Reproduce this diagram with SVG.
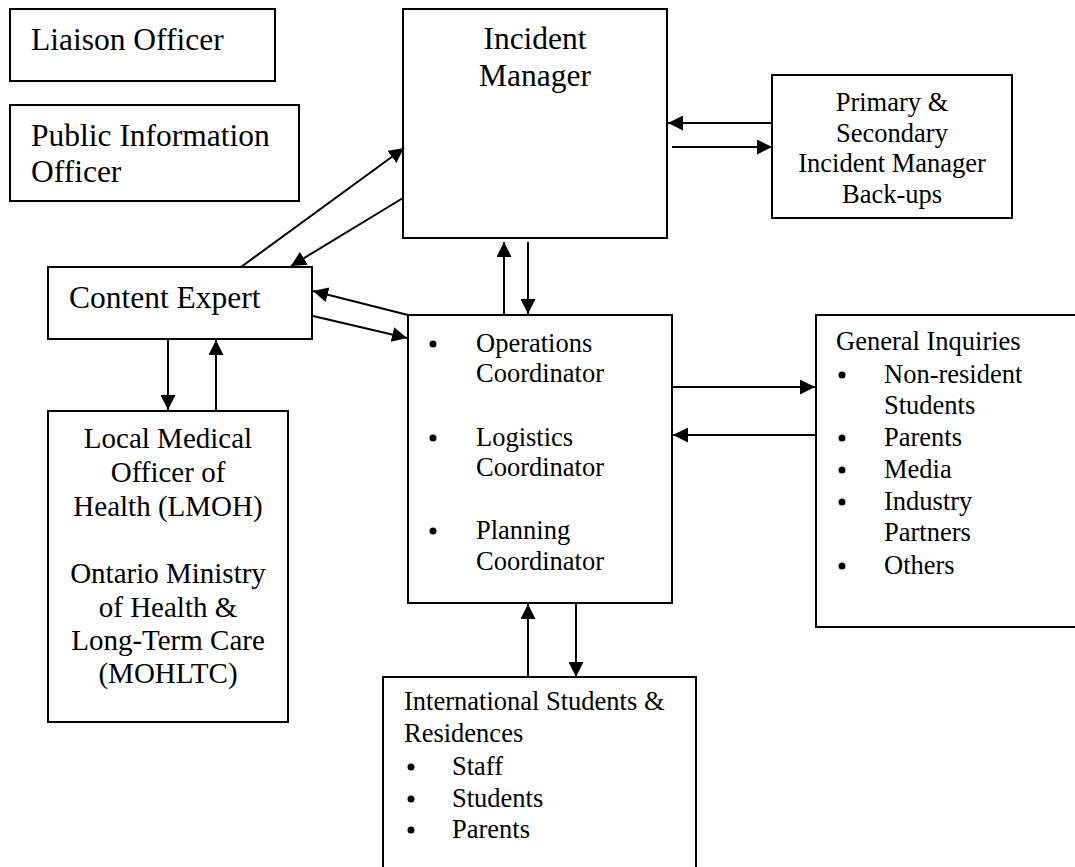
<svg xmlns="http://www.w3.org/2000/svg" width="1075" height="867" viewBox="0 0 1075 867">
<style>
.box{fill:#fff;stroke:#000;stroke-width:2}
.big{font-family:"Liberation Serif","Times New Roman",serif;font-size:31.5px;fill:#000}
.mid{font-family:"Liberation Serif","Times New Roman",serif;font-size:29px;fill:#000}
.sm{font-family:"Liberation Serif","Times New Roman",serif;font-size:26.5px;fill:#000}
.c{text-anchor:middle}
.ln{stroke:#000;stroke-width:2;fill:none;marker-end:url(#ah)}
</style>
<defs>
<marker id="ah" markerUnits="userSpaceOnUse" markerWidth="15" markerHeight="15" refX="14" refY="7" orient="auto" viewBox="0 0 14 14">
<path d="M0,0 L14,7 L0,14 z" fill="#000"/>
</marker>
</defs>
<rect width="1075" height="867" fill="#fff"/>
<g id="liaison">
<rect class="box" x="10" y="9" width="265" height="72"/>
<text class="big" x="31" y="50">Liaison Officer</text>
</g>
<g id="public-info">
<rect class="box" x="10" y="105" width="289" height="96"/>
<text class="big" x="31" y="146">Public Information</text>
<text class="big" x="31" y="182">Officer</text>
</g>
<g id="incident-manager">
<rect class="box" x="403" y="9" width="264" height="229"/>
<text class="big c" x="535" y="49">Incident</text>
<text class="big c" x="535" y="86">Manager</text>
</g>
<g id="backups">
<rect class="box" x="772" y="75" width="240" height="143"/>
<text class="sm c" x="892" y="111">Primary &amp;</text>
<text class="sm c" x="892" y="142">Secondary</text>
<text class="sm c" x="892" y="172">Incident Manager</text>
<text class="sm c" x="892" y="203">Back-ups</text>
</g>
<g id="content-expert">
<rect class="box" x="48" y="267" width="264" height="72"/>
<text class="big" x="69" y="308">Content Expert</text>
</g>
<g id="lmoh">
<rect class="box" x="48" y="411" width="240" height="311"/>
<text class="mid c" x="168" y="448">Local Medical</text>
<text class="mid c" x="168" y="482">Officer of</text>
<text class="mid c" x="168" y="516">Health (LMOH)</text>
<text class="mid c" x="168" y="583">Ontario Ministry</text>
<text class="mid c" x="168" y="617">of Health &amp;</text>
<text class="mid c" x="168" y="650">Long-Term Care</text>
<text class="mid c" x="168" y="683">(MOHLTC)</text>
</g>
<g id="coordinators">
<rect class="box" x="408" y="315" width="264" height="288"/>
<circle cx="433" cy="344" r="3.5"/>
<circle cx="433" cy="438" r="3.5"/>
<circle cx="433" cy="531" r="3.5"/>
<text class="sm" x="476" y="352">Operations</text>
<text class="sm" x="476" y="382">Coordinator</text>
<text class="sm" x="476" y="446">Logistics</text>
<text class="sm" x="476" y="476">Coordinator</text>
<text class="sm" x="476" y="539">Planning</text>
<text class="sm" x="476" y="570">Coordinator</text>
</g>
<g id="general-inquiries">
<rect class="box" x="816" y="315" width="270" height="312"/>
<text class="sm" x="836" y="350">General Inquiries</text>
<circle cx="842" cy="375" r="3.5"/>
<circle cx="842" cy="438" r="3.5"/>
<circle cx="842" cy="470" r="3.5"/>
<circle cx="842" cy="502" r="3.5"/>
<circle cx="842" cy="566" r="3.5"/>
<text class="sm" x="884" y="383">Non-resident</text>
<text class="sm" x="884" y="414">Students</text>
<text class="sm" x="884" y="446">Parents</text>
<text class="sm" x="884" y="478">Media</text>
<text class="sm" x="884" y="510">Industry</text>
<text class="sm" x="884" y="541">Partners</text>
<text class="sm" x="884" y="574">Others</text>
</g>
<g id="international">
<rect class="box" x="383" y="677" width="313" height="200"/>
<text class="sm" x="404" y="710">International Students &amp;</text>
<text class="sm" x="404" y="742">Residences</text>
<circle cx="411" cy="767" r="3.5"/>
<circle cx="411" cy="799" r="3.5"/>
<circle cx="411" cy="830" r="3.5"/>
<text class="sm" x="452" y="775">Staff</text>
<text class="sm" x="452" y="807">Students</text>
<text class="sm" x="452" y="838">Parents</text>
</g>
<g id="connectors">
<line class="ln" x1="772" y1="123" x2="668" y2="123"/>
<line class="ln" x1="672" y1="147" x2="772" y2="147"/>
<line class="ln" x1="241" y1="267" x2="404" y2="148"/>
<line class="ln" x1="403" y1="198" x2="291" y2="266"/>
<line class="ln" x1="504" y1="315" x2="504" y2="242"/>
<line class="ln" x1="528" y1="242" x2="528" y2="314"/>
<line class="ln" x1="408" y1="315" x2="313" y2="291"/>
<line class="ln" x1="313" y1="316" x2="407" y2="338"/>
<line class="ln" x1="168" y1="339" x2="168" y2="410"/>
<line class="ln" x1="216" y1="411" x2="216" y2="340"/>
<line class="ln" x1="672" y1="387" x2="815" y2="387"/>
<line class="ln" x1="815" y1="435" x2="673" y2="435"/>
<line class="ln" x1="528" y1="677" x2="528" y2="604"/>
<line class="ln" x1="576" y1="603" x2="576" y2="677"/>
</g>
</svg>
